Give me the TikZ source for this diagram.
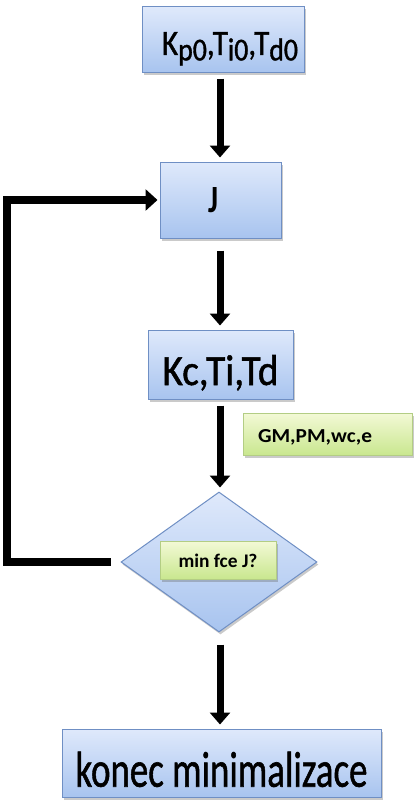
\documentclass[tikz,border=0pt]{standalone}
\usepackage{graphicx}
\usepackage{fontspec}
\setmainfont{Carlito}
\newfontfamily\heavyfont[FakeBold=1.2]{Carlito}
\usetikzlibrary{arrows.meta,shapes.geometric,shadows,calc}
\definecolor{bluetop}{HTML}{DFE9FB}
\definecolor{bluebot}{HTML}{A8C4EF}
\definecolor{blueedge}{HTML}{6F8FC4}
\definecolor{greentop}{HTML}{F3F9D6}
\definecolor{greenbot}{HTML}{C9E78F}
\definecolor{greenedge}{HTML}{B3CD84}
\tikzset{
  x=1pt,y=-1pt,
  boxshadow/.style={drop shadow={shadow xshift=1.5pt,shadow yshift=-2.5pt,opacity=0.35,fill=black!60}},
  bluebox/.style={rectangle,draw=blueedge,line width=1pt,top color=bluetop,bottom color=bluebot,boxshadow,inner sep=0pt,text=black,text depth=0pt},
  greenbox/.style={rectangle,draw=greenedge,line width=1pt,top color=greentop,bottom color=greenbot,boxshadow,inner sep=0pt,text=black,text depth=0pt,font=\bfseries},
  flowarrow/.style={line width=7pt,-{Triangle[length=12pt,width=20pt]},shorten <=6pt,shorten >=4pt},
  loopline/.style={line width=8pt,-{Triangle[length=12pt,width=21pt]},shorten >=2pt}
}
\newcommand{\fitbox}[3]{\resizebox{#1}{#2}{#3}}
\newcommand{\sbx}[1]{\raisebox{-0.15em}{\fontsize{32}{32}\selectfont #1}}
\begin{document}
\begin{tikzpicture}
\useasboundingbox (0,0) rectangle (420,808);
\node[bluebox,minimum width=162pt,minimum height=65pt,text height=31pt,font=\fontsize{36}{40}\heavyfont] (init) at (223,39.5)
  {\hspace*{14pt}\fitbox{136pt}{23pt}{K\sbx{p0},T\sbx{i0},T\sbx{d0}}};
\node[bluebox,minimum width=121pt,minimum height=76pt,text height=24pt,font=\fontsize{38}{40}\selectfont\bfseries] (J) at (220.5,200)
  {\fitbox{10pt}{25pt}{J}\hspace*{15pt}};
\node[bluebox,minimum width=145pt,minimum height=69pt,text height=41pt,font=\fontsize{44}{48}\heavyfont] (kc) at (220.5,364.5)
  {\fitbox{116pt}{30pt}{Kc,Ti,Td}};
\node[greenbox,minimum width=169pt,minimum height=42pt,text height=16.6pt] (gm) at (327.5,434)
  {\fitbox{114pt}{13pt}{GM,PM,wc,e}\hspace*{25pt}};
\node[diamond,draw=blueedge,line width=1pt,top color=bluetop,bottom color=bluebot,boxshadow,minimum width=196pt,minimum height=140pt,inner sep=0pt] (dec) at (219,562) {};
\node[greenbox,minimum width=116pt,minimum height=38pt,text height=14.6pt] (minf) at (218,560)
  {\fitbox{79pt}{13.5pt}{min fce J?}};
\node[bluebox,minimum width=319pt,minimum height=68pt,text height=47.4pt,font=\fontsize{50}{54}\heavyfont] (fin) at (221.5,763)
  {\fitbox{292pt}{35pt}{konec minimalizace}};
\coordinate (lx) at (7,0);
\draw[flowarrow] (init.south -| 220,0) -- (J.north -| 220,0);
\draw[flowarrow,shorten <=12pt] (J.south -| 220,0) -- (kc.north -| 220,0);
\draw[flowarrow] (kc.south -| 220,0) -- (dec.north -| 220,0);
\draw[flowarrow,shorten <=12pt] (dec.south -| 220,0) -- (fin.north -| 220,0);
\draw[loopline,shorten <=10pt] (dec.west) -- (dec.west -| lx) |- (J.west);
\end{tikzpicture}
\end{document}
